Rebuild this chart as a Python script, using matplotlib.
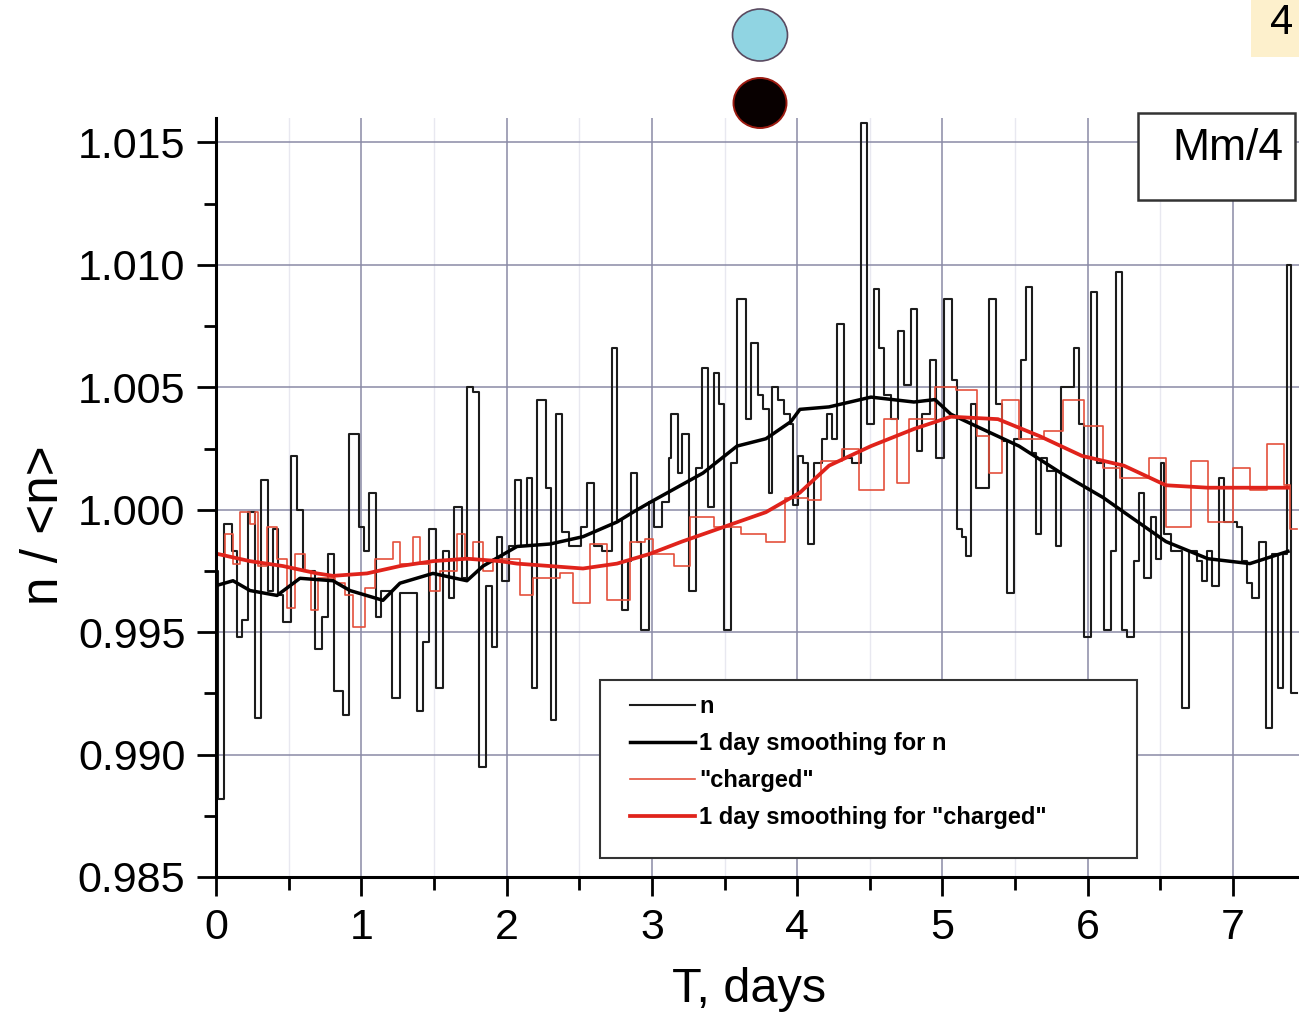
import numpy as np
import matplotlib
matplotlib.use('Agg')
import matplotlib.pyplot as plt
from matplotlib.patches import Ellipse, Rectangle
from matplotlib.ticker import MultipleLocator, FormatStrFormatter

plt.rcParams['font.family'] = ['Liberation Sans', 'DejaVu Sans']

# ---------------- data ----------------
# raw "n" (step starts, days) and values
n_t = [0.000, 0.012, 0.057, 0.108, 0.142, 0.181, 0.222, 0.268, 0.310, 0.360,
       0.394, 0.425, 0.463, 0.516, 0.555, 0.601, 0.681, 0.732, 0.769, 0.814,
       0.876, 0.915, 0.984, 1.019, 1.053, 1.099, 1.133, 1.209, 1.266, 1.385,
       1.427, 1.466, 1.512, 1.565, 1.604, 1.638, 1.691, 1.727, 1.771, 1.810,
       1.856, 1.897, 1.936, 1.970, 2.016, 2.058, 2.097, 2.143, 2.177, 2.211,
       2.269, 2.303, 2.338, 2.383, 2.430, 2.510, 2.555, 2.602, 2.659, 2.728,
       2.762, 2.796, 2.838, 2.854, 2.900, 2.925, 2.980, 3.017, 3.072, 3.118,
       3.131, 3.178, 3.209, 3.255, 3.302, 3.347, 3.384, 3.427, 3.462, 3.496,
       3.542, 3.588, 3.645, 3.682, 3.728, 3.767, 3.806, 3.829, 3.870, 3.909,
       3.951, 3.969, 4.003, 4.042, 4.077, 4.118, 4.173, 4.207, 4.242, 4.276,
       4.324, 4.379, 4.439, 4.482, 4.529, 4.565, 4.600, 4.643, 4.692, 4.735,
       4.781, 4.827, 4.861, 4.914, 4.953, 5.010, 5.068, 5.102, 5.136, 5.160,
       5.194, 5.229, 5.320, 5.366, 5.412, 5.446, 5.492, 5.538, 5.573, 5.618,
       5.641, 5.676, 5.721, 5.779, 5.813, 5.905, 5.939, 5.974, 6.020, 6.065,
       6.111, 6.158, 6.192, 6.233, 6.272, 6.318, 6.352, 6.387, 6.433, 6.467,
       6.502, 6.524, 6.571, 6.651, 6.697, 6.754, 6.788, 6.822, 6.857, 6.903,
       6.937, 7.029, 7.063, 7.098, 7.133, 7.179, 7.224, 7.270, 7.307, 7.341,
       7.370, 7.400, 7.440]
n_v = [0.9975, 0.9882, 0.9994, 0.9983, 0.9948, 0.9955, 0.9999, 0.9915, 1.0012, 0.9967,
       0.9992, 0.9965, 0.9954, 1.0022, 1.0000, 0.9975, 0.9943, 0.9956, 0.9982, 0.9926,
       0.9916, 1.0031, 0.9993, 0.9983, 1.0007, 0.9956, 0.9967, 0.9923, 0.9966, 0.9918,
       0.9946, 0.9992, 0.9927, 0.9983, 0.9964, 1.0001, 0.9972, 1.0050, 1.0048, 0.9895,
       0.9969, 0.9944, 0.9989, 0.9971, 0.9985, 1.0012, 0.9985, 1.0013, 0.9927, 1.0045,
       1.0009, 0.9914, 1.0039, 0.9991, 0.9985, 0.9993, 1.0011, 0.9985, 0.9983, 1.0066,
       0.9996, 0.9959, 0.9979, 1.0015, 0.9987, 0.9951, 1.0003, 0.9993, 1.0003, 1.0021,
       1.0039, 1.0015, 1.0031, 0.9967, 1.0017, 1.0058, 1.0001, 1.0056, 1.0043, 0.9951,
       1.0019, 1.0086, 1.0037, 1.0068, 1.0047, 1.0041, 1.0007, 1.0050, 1.0045, 1.0039,
       1.0035, 1.0002, 1.0022, 1.0019, 0.9986, 1.0019, 1.0029, 1.0039, 1.0029, 1.0076,
       1.0021, 1.0019, 1.0158, 1.0035, 1.0090, 1.0066, 1.0047, 1.0037, 1.0073, 1.0051,
       1.0082, 1.0024, 1.0039, 1.0061, 1.0021, 1.0086, 1.0053, 0.9992, 0.9989, 0.9981,
       1.0043, 1.0009, 1.0086, 1.0043, 1.0028, 0.9966, 1.0029, 1.0061, 1.0091, 1.0023,
       0.9990, 1.0021, 1.0016, 0.9985, 1.0050, 1.0066, 1.0035, 0.9948, 1.0089, 1.0019,
       0.9951, 0.9983, 1.0097, 0.9951, 0.9948, 0.9979, 1.0007, 0.9972, 0.9997, 0.9980,
       1.0019, 0.9990, 0.9983, 0.9919, 0.9983, 0.9979, 0.9971, 0.9983, 0.9969, 1.0013,
       0.9995, 0.9993, 0.9979, 0.9970, 0.9964, 0.9987, 0.9911, 0.9982, 0.9927, 0.9982,
       1.0100, 0.9925, 0.9925]

# raw "charged"
c_t = [0.000, 0.062, 0.117, 0.165, 0.234, 0.268, 0.289, 0.351, 0.420, 0.489,
       0.544, 0.613, 0.654, 0.702, 0.819, 0.888, 0.943, 1.025, 1.094, 1.218,
       1.266, 1.356, 1.404, 1.473, 1.542, 1.659, 1.714, 1.769, 1.838, 1.906,
       2.092, 2.182, 2.368, 2.457, 2.574, 2.691, 2.849, 2.953, 3.008, 3.152,
       3.262, 3.427, 3.613, 3.785, 3.916, 4.074, 4.164, 4.308, 4.425, 4.597,
       4.687, 4.769, 4.948, 5.093, 5.237, 5.320, 5.409, 5.527, 5.699, 5.829,
       5.974, 6.105, 6.222, 6.421, 6.538, 6.710, 6.827, 6.999, 7.116, 7.233,
       7.350, 7.392, 7.440]
c_v = [0.9982, 0.9990, 0.9978, 0.9999, 0.9994, 0.9999, 0.9977, 0.9993, 0.9980, 0.9960,
       0.9982, 0.9975, 0.9959, 0.9972, 0.9970, 0.9965, 0.9952, 0.9968, 0.9980, 0.9987,
       0.9978, 0.9989, 0.9978, 0.9967, 0.9975, 0.9990, 0.9980, 0.9987, 0.9975, 0.9980,
       0.9965, 0.9972, 0.9974, 0.9962, 0.9986, 0.9963, 0.9987, 0.9988, 0.9982, 0.9977,
       0.9997, 0.9993, 0.9990, 0.9987, 1.0005, 1.0004, 1.0020, 1.0025, 1.0008, 1.0037,
       1.0011, 1.0037, 1.0050, 1.0049, 1.0030, 1.0015, 1.0045, 1.0029, 1.0032, 1.0045,
       1.0034, 1.0017, 1.0013, 1.0021, 0.9993, 1.0020, 0.9995, 1.0017, 1.0008, 1.0027,
       1.0010, 0.9992, 0.9992]

# 1 day smoothing for n
ns_t = [0.000, 0.117, 0.234, 0.420, 0.578, 0.805, 0.922, 1.149, 1.266, 1.493,
        1.727, 1.838, 2.072, 2.299, 2.526, 2.760, 2.870, 2.987, 3.352, 3.586,
        3.785, 3.957, 4.019, 4.219, 4.508, 4.804, 4.948, 5.058, 5.237, 5.527,
        5.816, 6.105, 6.249, 6.538, 6.827, 7.116, 7.378]
ns_v = [0.9969, 0.9971, 0.9967, 0.9965, 0.9972, 0.9971, 0.9967, 0.9963, 0.9970, 0.9974,
        0.9971, 0.9977, 0.9985, 0.9986, 0.9989, 0.9995, 0.9999, 1.0003, 1.0015, 1.0026,
        1.0029, 1.0036, 1.0041, 1.0042, 1.0046, 1.0044, 1.0045, 1.0039, 1.0034, 1.0026,
        1.0015, 1.0005, 0.9999, 0.9987, 0.9980, 0.9978, 0.9983]

# 1 day smoothing for "charged"
cs_t = [0.007, 0.234, 0.461, 0.695, 0.805, 1.039, 1.266, 1.493, 1.727, 1.955,
        2.072, 2.299, 2.526, 2.760, 2.987, 3.207, 3.496, 3.785, 4.019, 4.219,
        4.508, 4.804, 5.058, 5.382, 5.671, 5.960, 6.249, 6.538, 6.827, 7.116, 7.378]
cs_v = [0.9982, 0.9979, 0.9977, 0.9974, 0.9973, 0.9974, 0.9977, 0.9979, 0.9980, 0.9979,
        0.9978, 0.9977, 0.9976, 0.9978, 0.9982, 0.9987, 0.9993, 0.9999, 1.0007, 1.0018,
        1.0026, 1.0033, 1.0038, 1.0037, 1.0030, 1.0022, 1.0018, 1.0010, 1.0009, 1.0009, 1.0009]

x_ticks = [0, 1, 2, 3, 4, 5, 6, 7]
y_ticks = [0.985, 0.990, 0.995, 1.000, 1.005, 1.010, 1.015]
legend_labels = ['n', '1 day smoothing for n', '"charged"', '1 day smoothing for "charged"']

# ---------------- figure ----------------
W, H = 1299, 1018
fig = plt.figure(figsize=(W / 100, H / 100), dpi=100)
ax = fig.add_axes([216 / W, 1 - 877 / H, 1 - 216 / W, (877 - 118) / H])

ax.step(n_t, n_v, where='post', color='#1c1c1c', lw=1.5, zorder=3, label=legend_labels[0])
ax.plot(ns_t, ns_v, color='black', lw=2.5, zorder=5, label=legend_labels[1])
ax.step(c_t, c_v, where='post', color='#e4503c', lw=1.2, zorder=4, label=legend_labels[2])
ax.plot(cs_t, cs_v, color='#e0231b', lw=2.7, zorder=6, label=legend_labels[3])

ax.set_xlim(0, 7.454)
ax.set_ylim(0.985, 1.0160)
ax.set_xticks(x_ticks)
ax.set_yticks(y_ticks)
ax.xaxis.set_minor_locator(MultipleLocator(0.5))
ax.yaxis.set_minor_locator(MultipleLocator(0.0025))
ax.yaxis.set_major_formatter(FormatStrFormatter('%.3f'))

ax.set_axisbelow(True)
ax.grid(which='major', color='#8a8aa6', lw=1.1)
ax.xaxis.grid(which='minor', color='#e8e8f0', lw=1.0)

for s in ['top', 'right']:
    ax.spines[s].set_visible(False)
for s in ['left', 'bottom']:
    ax.spines[s].set_linewidth(2.2)
    ax.spines[s].set_zorder(8)

ax.tick_params(which='major', direction='out', length=14, width=2, labelsize=31, pad=8,
               colors='black')
ax.tick_params(which='minor', direction='out', length=9, width=2)

# legend box + legend
ax.add_patch(Rectangle((600 / W, 1 - 858 / H), (1137 - 600) / W, (858 - 680) / H,
                       transform=fig.transFigure, fc='white', ec='#333333', lw=1.5,
                       zorder=10, clip_on=False))
leg = ax.legend(loc='upper left', bbox_to_anchor=(618 / W, 1 - 683 / H),
                bbox_transform=fig.transFigure, frameon=False, borderpad=0,
                handlelength=2.75, handletextpad=0.2, labelspacing=0.6,
                prop={'size': 17, 'weight': 'bold'})
leg.set_zorder(11)

# Mm/4 box
ax.add_patch(Rectangle((1138 / W, 1 - 200 / H), (1295 - 1138) / W, (200 - 113) / H,
                       transform=fig.transFigure, fc='white', ec='#333333', lw=1.8,
                       zorder=10, clip_on=False))
fig.text(1228 / W, 1 - 149 / H, 'Mm/4', ha='center', va='center', fontsize=32, zorder=12)

# axis labels
fig.text(749 / W, 1 - 990 / H, 'T, days', ha='center', va='center', fontsize=35)
fig.text(45 / W, 1 - 525 / H, 'n / <n>', rotation=90, ha='center', va='center', fontsize=37)

# circles at the top
fig.patches.append(Ellipse((760 / W, 1 - 35 / H), 55 / W, 52 / H, transform=fig.transFigure,
                           fc='#90d4e2', ec='#5a4a60', lw=1.2, zorder=20))
fig.patches.append(Ellipse((760 / W, 1 - 103 / H), 53 / W, 50 / H, transform=fig.transFigure,
                           fc='#080000', ec='#9a1a10', lw=1.4, zorder=20))

# corner "4" with cream background
fig.patches.append(Rectangle((1251 / W, 1 - 57 / H), 48 / W, 57 / H, transform=fig.transFigure,
                             fc='#fdf0cc', ec='none', zorder=19))
fig.text(1270 / W, 1 - 34 / H, '4', ha='left', va='baseline', fontsize=30, zorder=21)

fig.savefig('out.png', dpi=100)
